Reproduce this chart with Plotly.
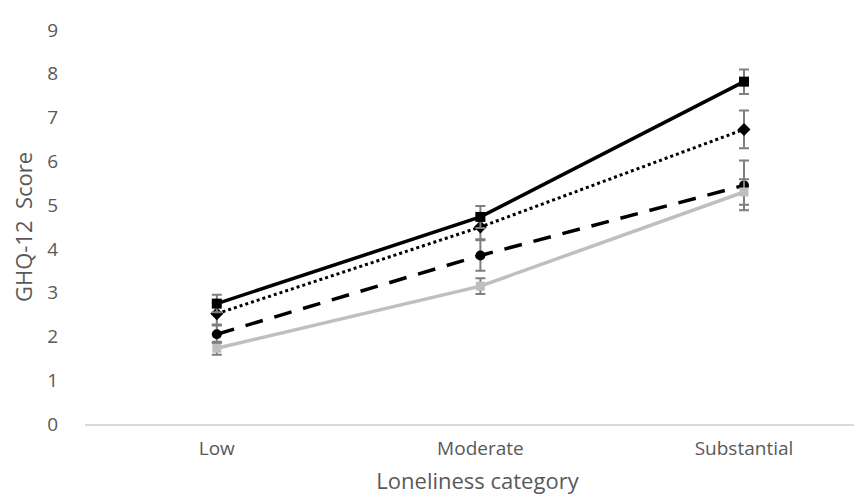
import plotly.graph_objects as go

categories = ["Low", "Moderate", "Substantial"]
x_pos = [0, 1, 2]

solid_vals = [2.75, 4.73, 7.82]
solid_err = [0.20, 0.25, 0.28]

dotted_vals = [2.52, 4.50, 6.73]
dotted_err = [0.25, 0.28, 0.43]

dashed_vals = [2.05, 3.85, 5.45]
dashed_err = [0.20, 0.35, 0.57]

gray_vals = [1.73, 3.15, 5.30]
gray_err = [0.15, 0.18, 0.29]

y_ticks = list(range(0, 10))

err_color = "#7f7f7f"
text_color = "#595959"
font_family = "Open Sans, Liberation Sans, sans-serif"

fig = go.Figure()

def add(vals, errs, color, dash, symbol, msize, lw, mcolor):
    fig.add_trace(go.Scatter(
        x=x_pos, y=vals, mode="lines+markers",
        line=dict(color=color, width=lw, dash=dash),
        marker=dict(symbol=symbol, size=msize, color=mcolor),
        error_y=dict(type="data", array=errs, visible=True,
                     color=err_color, thickness=2, width=5),
        showlegend=False,
    ))

add(dashed_vals, dashed_err, "#000000", "18px,12px", "circle", 10, 3.5, "#000000")
add(gray_vals, gray_err, "#bfbfbf", "solid", "square", 9, 3.5, "#bfbfbf")
add(dotted_vals, dotted_err, "#000000", "dot", "diamond", 10, 3, "#000000")
add(solid_vals, solid_err, "#000000", "solid", "square", 10, 3.5, "#000000")

fig.update_layout(
    width=862, height=499,
    margin=dict(l=77, r=0, t=22, b=83),
    paper_bgcolor="white", plot_bgcolor="white",
    font=dict(family=font_family, color=text_color, size=19),
    xaxis=dict(
        range=[-0.5, 2.478],
        tickvals=x_pos, ticktext=categories,
        showgrid=False, zeroline=False,
        showline=True, linecolor="#d9d9d9", linewidth=1.5,
        ticks="", tickfont=dict(size=19, color=text_color),
        ticklabelstandoff=6,
        title=dict(text="Loneliness category", font=dict(size=22, color=text_color), standoff=14),
    ),
    yaxis=dict(
        range=[0, 9], tickvals=y_ticks,
        showgrid=False, zeroline=False, showline=False,
        ticks="", tickfont=dict(size=19, color=text_color),
        ticklabelstandoff=26,
        title=dict(text="GHQ-12  Score", font=dict(size=22, color=text_color), standoff=10),
    ),
)

fig.write_html("out.html")
